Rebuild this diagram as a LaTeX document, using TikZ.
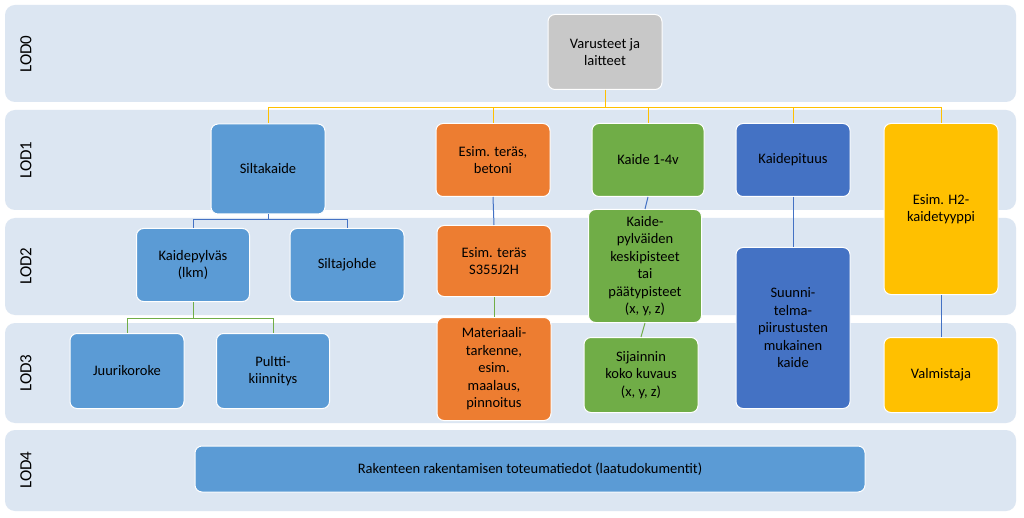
\documentclass[tikz,border=0pt]{standalone}
\usepackage{fontspec}
\setmainfont{Carlito}
\begin{document}
\definecolor{band}{RGB}{220,230,242}
\definecolor{cgray}{RGB}{200,200,200}
\definecolor{cblue}{RGB}{91,155,213}
\definecolor{cdblue}{RGB}{68,114,196}
\definecolor{corange}{RGB}{237,125,49}
\definecolor{cgreen}{RGB}{112,173,71}
\definecolor{cgold}{RGB}{255,192,0}
\begin{tikzpicture}[x=1pt,y=-1pt,
  bandbox/.style={fill=band,rounded corners=10pt,draw=none},
  lodlabel/.style={rotate=90,font=\fontsize{17}{19}\selectfont},
  box/.style={draw=white,line width=1pt,rounded corners=7pt,align=center,
    font=\fontsize{14.5}{17.5}\selectfont,inner sep=2pt},
  goldline/.style={draw=cgold,line width=1pt},
  blueline/.style={draw=cdblue,line width=1pt},
  greenline/.style={draw=cgreen,line width=1pt}]
\useasboundingbox (0,0) rectangle (1024,518);
\fill[white] (0,0) rectangle (1024,518);
\foreach \a/\b in {5/102,110/210,218/315,323/423,430/511}
  \path[bandbox] (5,\a) rectangle (1016,\b);
\node[lodlabel] (l0) at (26,54) {LOD0};
\node[lodlabel] (l1) at (26,160) {LOD1};
\node[lodlabel] (l2) at (26,266) {LOD2};
\node[lodlabel] (l3) at (26,373) {LOD3};
\node[lodlabel] (l4) at (26,470) {LOD4};
% nodes
\node[box,fill=cgray,minimum width=114pt,minimum height=75pt] (v) at (605,52) {Varusteet ja\\laitteet};
\node[box,fill=cblue,minimum width=114pt,minimum height=90pt] (s) at (268,169) {Siltakaide};
\node[box,fill=corange,minimum width=114pt,minimum height=73pt] (o1) at (493,160) {Esim. teräs,\\betoni};
\node[box,fill=cgreen,minimum width=112pt,minimum height=73pt] (g1) at (648,160) {Kaide 1-4v};
\node[box,fill=cdblue,minimum width=114pt,minimum height=73pt] (d1) at (793,160) {Kaidepituus};
\node[box,fill=cgold,minimum width=114pt,minimum height=171pt] (y1) at (941,209) {Esim. H2-\\kaidetyyppi};
\node[box,fill=cblue,minimum width=113pt,minimum height=73pt] (kp) at (193,265) {Kaidepylväs\\(lkm)};
\node[box,fill=cblue,minimum width=114pt,minimum height=73pt] (sj) at (347,265) {Siltajohde};
\node[box,fill=corange,minimum width=114pt,minimum height=71pt] (o2) at (494,261) {Esim. teräs\\S355J2H};
\node[box,fill=cgreen,minimum width=113pt,minimum height=113pt] (g2) at (645,266) {Kaide-\\pylväiden\\keskipisteet\\tai\\päätypisteet\\(x, y, z)};
\node[box,fill=cdblue,minimum width=114pt,minimum height=161pt] (d2) at (793,328) {Suunni-\\telma-\\piirustusten\\mukainen\\kaide};
\node[box,fill=cblue,minimum width=114pt,minimum height=75pt] (jk) at (127,371) {Juurikoroke};
\node[box,fill=cblue,minimum width=113pt,minimum height=75pt] (pk) at (273,371) {Pultti-\\kiinnitys};
\node[box,fill=corange,minimum width=114pt,minimum height=103pt] (o3) at (494,369) {Materiaali-\\tarkenne,\\esim.\\maalaus,\\pinnoitus};
\node[box,fill=cgreen,minimum width=114pt,minimum height=75pt] (g3) at (641,375) {Sijainnin\\koko kuvaus\\(x, y, z)};
\node[box,fill=cgold,minimum width=114pt,minimum height=75pt] (y3) at (941,375) {Valmistaja};
\node[box,fill=cblue,minimum width=670pt,minimum height=46pt] (r) at (530,469) {Rakenteen rakentamisen toteumatiedot (laatudokumentit)};
% connectors
\coordinate (j0) at (605,108);
\foreach \t in {s,o1,g1,d1,y1}
  \draw[goldline] (v.south) -- (j0) -| (\t.north);
\coordinate (j1) at (268,220);
\foreach \t in {kp,sj}
  \draw[blueline] (s.south) -- (j1) -| (\t.north);
\coordinate (j2) at (193,318);
\foreach \t in {jk,pk}
  \draw[greenline] (kp.south) -- (j2) -| (\t.north);
\draw[blueline] (o1.south) -- (o2.north);
\draw[greenline] (o2.south) -- (o3.north);
\draw[blueline] (g1.south) -- (g2.north);
\draw[greenline] (g2.south) -- (g3.north);
\draw[blueline] (d1.south) -- (d2.north);
\draw[blueline] (y1.south) -- (y3.north);
\end{tikzpicture}
\end{document}
